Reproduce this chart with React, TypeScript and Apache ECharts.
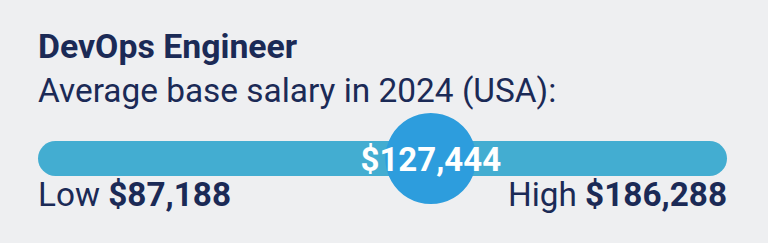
import React, { useEffect, useRef } from "react";
import * as echarts from "echarts";

const jobTitle = "DevOps Engineer";
const subtitle = "Average base salary in 2024 (USA):";
const rangeLabels = ["Low", "High"];
const rangeValues = [87188, 186288];
const averageValue = 127444;
const categories = ["salary"];
// scale used to place the average marker along the track
const markerScale = [87188, 157800];

const FONT = "Roboto";
const NAVY = "#1B2A56";

const fmt = (v: number) => "$" + String(v).replace(/\B(?=(\d{3})+(?!\d))/g, ",");

export default function App() {
  const ref = useRef<HTMLDivElement>(null);
  useEffect(() => {
    if (!ref.current) return;
    const chart = echarts.init(ref.current, null, { renderer: "svg" });
    const [low, high] = rangeValues;
    chart.setOption({
      animation: false,
      backgroundColor: "#EEEFF1",
      grid: { left: 38, right: 41, top: 141, height: 35 },
      xAxis: [
        { type: "value", min: low, max: high, show: false },
        { type: "value", min: markerScale[0], max: markerScale[1], show: false },
      ],
      yAxis: { type: "category", data: categories, show: false },
      series: [
        {
          type: "bar",
          stack: "range",
          data: [low],
          barWidth: 35,
          itemStyle: { color: "transparent" },
          silent: true,
        },
        {
          type: "bar",
          stack: "range",
          data: [high - low],
          barWidth: 35,
          itemStyle: { color: "#43ADD1", borderRadius: 17.5 },
        },
        {
          type: "scatter",
          xAxisIndex: 1,
          data: [[averageValue, categories[0]]],
          symbolSize: 91,
          itemStyle: { color: "#2D9DDD", opacity: 1 },
          z: 5,
          label: {
            show: true,
            position: "inside",
            formatter: () => fmt(averageValue),
            color: "#FFFFFF",
            fontSize: 33,
            fontWeight: "bold",
            fontFamily: FONT,
            offset: [0, 1],
          },
        },
      ],
      graphic: [
        {
          type: "text",
          x: 38,
          y: 46,
          style: {
            text: jobTitle,
            fill: NAVY,
            font: `bold 33.8px ${FONT}`,
            align: "left",
            verticalAlign: "middle",
          },
        },
        {
          type: "text",
          x: 38,
          y: 90,
          style: {
            text: subtitle,
            fill: NAVY,
            font: `33.4px ${FONT}`,
            align: "left",
            verticalAlign: "middle",
          },
        },
        {
          type: "text",
          x: 38,
          y: 194,
          style: {
            text: `{r|${rangeLabels[0]}\u00A0}{b|${fmt(rangeValues[0])}}`,
            align: "left",
            verticalAlign: "middle",
            rich: {
              r: { fill: NAVY, fontSize: 33.3, fontFamily: FONT },
              b: { fill: NAVY, fontSize: 33.3, fontFamily: FONT, fontWeight: "bold" },
            },
          },
        },
        {
          type: "text",
          x: 727,
          y: 194,
          style: {
            text: `{r|${rangeLabels[1]}\u00A0}{b|${fmt(rangeValues[1])}}`,
            align: "right",
            verticalAlign: "middle",
            rich: {
              r: { fill: NAVY, fontSize: 33.3, fontFamily: FONT },
              b: { fill: NAVY, fontSize: 33.3, fontFamily: FONT, fontWeight: "bold" },
            },
          },
        },
      ],
    });
    return () => chart.dispose();
  }, []);
  return (
    <div
      ref={ref}
      style={{ position: "fixed", left: 0, top: 0, width: 768, height: 243 }}
    />
  );
}
